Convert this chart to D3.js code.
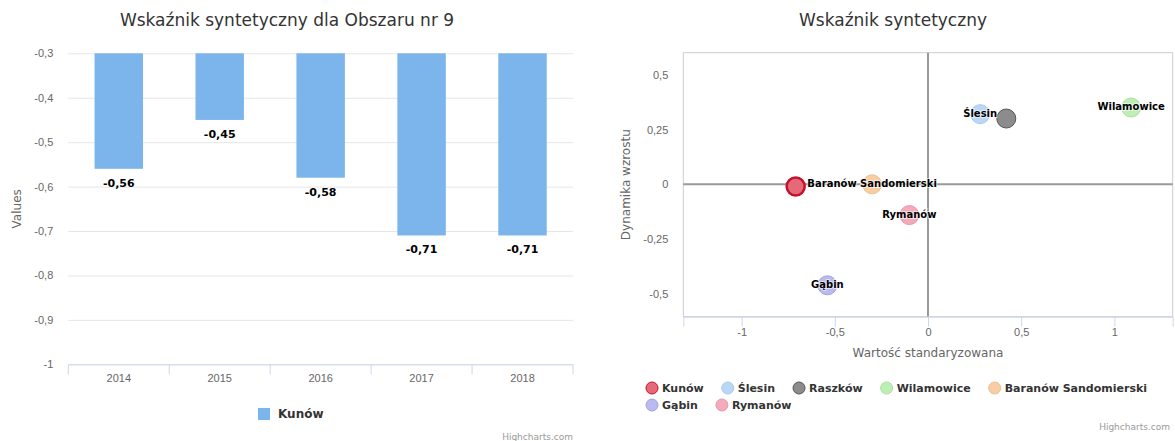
<!DOCTYPE html>
<html>
<head>
<meta charset="utf-8">
<script src="https://cdn.jsdelivr.net/npm/d3@7"></script>
<style>
  body { margin: 0; background: #fff; }
  svg { font-family: "Lucida Grande", "DejaVu Sans", sans-serif; display: block; }
</style>
</head>
<body>
<div class="chart"></div>
<script>
// Data - left chart
const years = ["2014", "2015", "2016", "2017", "2018"];
const kunowValues = [-0.56, -0.45, -0.58, -0.71, -0.71];
const barTicks = [-1, -0.9, -0.8, -0.7, -0.6, -0.5, -0.4, -0.3];

// Data - right chart
const towns = ["Kunów", "Ślesin", "Raszków", "Wilamowice", "Baranów Sandomierski", "Gąbin", "Rymanów"];
const standardized = [-0.71, 0.28, 0.42, 1.09, -0.30, -0.54, -0.10];
const growth = [-0.01, 0.32, 0.30, 0.35, 0.00, -0.46, -0.14];
const xTicks = [-1, -0.5, 0, 0.5, 1];
const yTicks = [-0.5, -0.25, 0, 0.25, 0.5];
const hiddenLabels = ["Kunów", "Raszków"];

const townFill = ["#e46a79", "#b9d7f6", "#8c8c8c", "#bdefb4", "#f8cda4", "#babaf0", "#f4aabb"];
const townStroke = ["#c8102e", "#a9c9ea", "#555555", "#a9e0a0", "#eabf95", "#a2a2dd", "#e597a9"];
const townStrokeWidth = [2.5, 1, 1, 1, 1, 1, 1];

const locale = d3.formatLocale({ decimal: ",", thousands: " ", grouping: [3], currency: ["", " zł"], minus: "-" });
const fmtTick = locale.format("~g");
const fmtLabel = locale.format(".2f");

const svg = d3.select(".chart").append("svg")
    .attr("width", 1175)
    .attr("height", 441);

function drawBarChart() {
    const m = { left: 68.3, right: 573, top: 53.3, bottom: 364.3 };
    const g = svg.append("g");

    g.append("text")
        .attr("x", 287).attr("y", 26)
        .attr("text-anchor", "middle")
        .attr("font-size", 17).attr("fill", "#333")
        .text("Wskaźnik syntetyczny dla Obszaru nr 9");

    const yScale = d3.scaleLinear()
        .domain([-1, -0.3])
        .range([m.bottom, m.top]);

    const xCat = d3.scaleBand()
        .domain(years)
        .range([m.left, m.right]);

    const xBar = d3.scaleBand()
        .domain(years)
        .range([m.left, m.right])
        .paddingInner(0.52)
        .paddingOuter(0.26);

    // gridlines
    g.append("g")
        .attr("transform", `translate(${m.left},0)`)
        .call(d3.axisLeft(yScale).tickValues(barTicks).tickSize(-(m.right - m.left)).tickFormat(""))
        .call(a => a.select(".domain").remove())
        .call(a => a.selectAll("line").attr("stroke", "#e6e6e6"));

    // y labels
    g.append("g")
        .attr("transform", `translate(${m.left},0)`)
        .call(d3.axisLeft(yScale).tickValues(barTicks).tickSize(0).tickPadding(15).tickFormat(fmtTick))
        .call(a => a.select(".domain").remove())
        .call(a => a.selectAll("text").attr("fill", "#666").attr("font-size", 11).attr("font-family", null));

    // bars
    g.selectAll(".bar")
        .data(years)
        .enter()
        .append("rect")
        .attr("class", "bar")
        .attr("x", d => xBar(d))
        .attr("y", yScale(-0.3))
        .attr("width", xBar.bandwidth())
        .attr("height", (d, i) => yScale(kunowValues[i]) - yScale(-0.3))
        .attr("fill", "#7cb5ec");

    // data labels
    g.selectAll(".lbl")
        .data(years)
        .enter()
        .append("text")
        .attr("x", d => xBar(d) + xBar.bandwidth() / 2)
        .attr("y", (d, i) => yScale(kunowValues[i]) + 14)
        .attr("dy", "0.35em")
        .attr("text-anchor", "middle")
        .attr("font-size", 11).attr("font-weight", "bold").attr("fill", "#000")
        .text((d, i) => fmtLabel(kunowValues[i]));

    // x axis
    const xAxisG = g.append("g")
        .attr("transform", `translate(0,${m.bottom})`)
        .call(d3.axisBottom(xCat).tickSize(0).tickPadding(10))
        .call(a => a.select(".domain").attr("stroke", "#ccd6eb"))
        .call(a => a.selectAll("text").attr("fill", "#666").attr("font-size", 11).attr("font-family", null));

    const bounds = years.map(d => xCat(d)).concat([xCat.range()[1]]);
    xAxisG.selectAll(".bound")
        .data(bounds)
        .enter()
        .append("line")
        .attr("x1", d => d).attr("x2", d => d)
        .attr("y1", 0).attr("y2", 10)
        .attr("stroke", "#ccd6eb");

    // y title
    g.append("text")
        .attr("transform", `translate(17,${(m.top + m.bottom) / 2}) rotate(-90)`)
        .attr("text-anchor", "middle").attr("dy", "0.35em")
        .attr("font-size", 12).attr("fill", "#666")
        .text("Values");

    // legend
    const lg = g.append("g");
    lg.append("rect")
        .attr("x", 258).attr("y", 408).attr("width", 12).attr("height", 12)
        .attr("fill", "#7cb5ec");
    lg.append("text")
        .attr("x", 278).attr("y", 414).attr("dy", "0.35em")
        .attr("font-size", 12).attr("font-weight", "bold").attr("fill", "#333")
        .text("Kunów");

    g.append("text")
        .attr("x", 573).attr("y", 437).attr("dy", "0.35em")
        .attr("text-anchor", "end")
        .attr("font-size", 9).attr("fill", "#999")
        .text("Highcharts.com");
}

function drawScatter() {
    const m = { left: 683.3, right: 1172.7, top: 52.7, bottom: 316.7 };
    const g = svg.append("g");

    g.append("text")
        .attr("x", 893).attr("y", 26)
        .attr("text-anchor", "middle")
        .attr("font-size", 17).attr("fill", "#333")
        .text("Wskaźnik syntetyczny");

    const xScale = d3.scaleLinear().domain([-1.313, 1.313]).range([m.left, m.right]);
    const yScale = d3.scaleLinear().domain([-0.603, 0.6]).range([m.bottom, m.top]);

    g.append("rect")
        .attr("x", m.left).attr("y", m.top)
        .attr("width", m.right - m.left).attr("height", m.bottom - m.top)
        .attr("fill", "none").attr("stroke", "#cccccc");

    // zero lines
    g.append("line")
        .attr("x1", xScale(0)).attr("x2", xScale(0))
        .attr("y1", m.top).attr("y2", m.bottom)
        .attr("stroke", "#999").attr("stroke-width", 2);
    g.append("line")
        .attr("x1", m.left).attr("x2", m.right)
        .attr("y1", yScale(0)).attr("y2", yScale(0))
        .attr("stroke", "#999").attr("stroke-width", 2);

    g.append("g")
        .attr("transform", `translate(0,${m.bottom})`)
        .call(d3.axisBottom(xScale).tickValues(xTicks).tickSize(10).tickPadding(2).tickFormat(fmtTick))
        .call(a => a.select(".domain").attr("stroke", "#ccd6eb"))
        .call(a => a.selectAll("line").attr("stroke", "#ccd6eb"))
        .call(a => a.selectAll("text").attr("fill", "#666").attr("font-size", 11).attr("font-family", null));

    g.append("g")
        .attr("transform", `translate(${m.left},0)`)
        .call(d3.axisLeft(yScale).tickValues(yTicks).tickSize(0).tickPadding(15).tickFormat(fmtTick))
        .call(a => a.select(".domain").remove())
        .call(a => a.selectAll("text").attr("fill", "#666").attr("font-size", 11).attr("font-family", null));

    g.append("text")
        .attr("x", (m.left + m.right) / 2).attr("y", 353).attr("dy", "0.35em")
        .attr("text-anchor", "middle")
        .attr("font-size", 12).attr("fill", "#666")
        .text("Wartość standaryzowana");

    g.append("text")
        .attr("transform", `translate(626,${(m.top + m.bottom) / 2}) rotate(-90)`)
        .attr("text-anchor", "middle").attr("dy", "0.35em")
        .attr("font-size", 12).attr("fill", "#666")
        .text("Dynamika wzrostu");

    // points
    g.selectAll(".pt")
        .data(towns)
        .enter()
        .append("circle")
        .attr("class", "pt")
        .attr("cx", (d, i) => xScale(standardized[i]))
        .attr("cy", (d, i) => yScale(growth[i]))
        .attr("r", (d, i) => i === 0 ? 9 : 9.5)
        .attr("fill", (d, i) => townFill[i])
        .attr("stroke", (d, i) => townStroke[i])
        .attr("stroke-width", (d, i) => townStrokeWidth[i]);

    // labels
    g.selectAll(".plbl")
        .data(towns.filter(d => !hiddenLabels.includes(d)))
        .enter()
        .append("text")
        .attr("x", d => xScale(standardized[towns.indexOf(d)]))
        .attr("y", d => yScale(growth[towns.indexOf(d)]) - 1)
        .attr("dy", "0.35em")
        .attr("text-anchor", "middle")
        .attr("font-size", 10).attr("font-weight", "bold").attr("fill", "#000")
        .attr("stroke", "#fff").attr("stroke-width", 2).attr("stroke-opacity", 0.6)
        .attr("paint-order", "stroke")
        .text(d => d);

    // legend
    const lg = g.append("g");
    const rowStart = 652, maxRight = 1172;
    let lx = rowStart, ly = 388;
    towns.forEach((t, i) => {
        const item = lg.append("g");
        const txt = item.append("text")
            .attr("x", 10).attr("y", 0).attr("dy", "0.35em")
            .attr("font-size", 11).attr("font-weight", "bold").attr("fill", "#333")
            .text(t);
        const w = txt.node().getComputedTextLength();
        if (lx + 10 + w > maxRight) {
            lx = rowStart;
            ly += 17;
        }
        item.attr("transform", `translate(${lx},${ly})`);
        item.append("circle")
            .attr("cx", 0).attr("cy", 0).attr("r", 6)
            .attr("fill", townFill[i])
            .attr("stroke", townStroke[i])
            .attr("stroke-width", 1);
        lx += 10 + w + 24;
    });

    g.append("text")
        .attr("x", 1170).attr("y", 427).attr("dy", "0.35em")
        .attr("text-anchor", "end")
        .attr("font-size", 9).attr("fill", "#999")
        .text("Highcharts.com");
}

drawBarChart();
drawScatter();
</script>
</body>
</html>
